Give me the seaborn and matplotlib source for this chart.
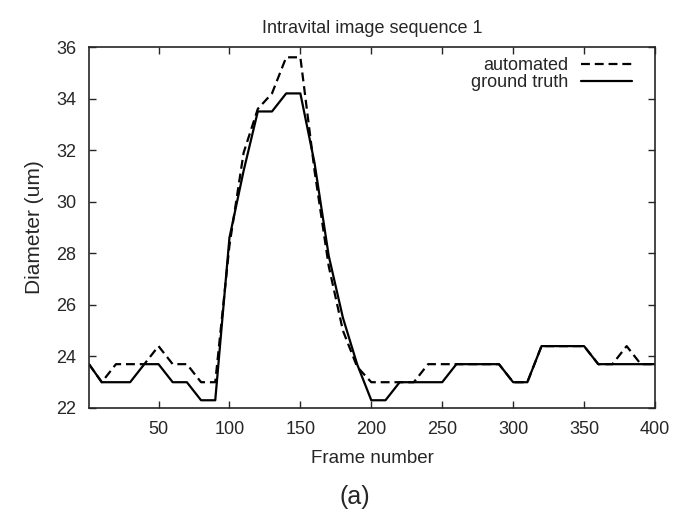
import matplotlib
matplotlib.use("Agg")
import matplotlib.pyplot as plt
import seaborn as sns
import pandas as pd

sns.set_style("ticks")
plt.rcParams['font.family'] = ['Liberation Sans', 'DejaVu Sans']

# frame numbers (sampled every 10 frames)
frames = [1, 10, 20, 30, 40, 50, 60, 70, 80, 90,
          100, 110, 120, 130, 140, 150, 160, 170, 180, 190,
          200, 210, 220, 230, 240, 250, 260, 270, 280, 290,
          300, 310, 320, 330, 340, 350, 360, 370, 380, 390, 400]

automated = [23.7, 23.0, 23.7, 23.7, 23.7, 24.4, 23.7, 23.7, 23.0, 23.0,
             28.3, 31.9, 33.6, 34.2, 35.6, 35.6, 31.2, 27.5, 25.0, 23.6,
             23.0, 23.0, 23.0, 23.0, 23.7, 23.7, 23.7, 23.7, 23.7, 23.7,
             23.0, 23.0, 24.4, 24.4, 24.4, 24.4, 23.7, 23.7, 24.4, 23.7, 23.7]

ground_truth = [23.7, 23.0, 23.0, 23.0, 23.7, 23.7, 23.0, 23.0, 22.3, 22.3,
                28.6, 31.2, 33.5, 33.5, 34.2, 34.2, 31.5, 27.9, 25.5, 23.7,
                22.3, 22.3, 23.0, 23.0, 23.0, 23.0, 23.7, 23.7, 23.7, 23.7,
                23.0, 23.0, 24.4, 24.4, 24.4, 24.4, 23.7, 23.7, 23.7, 23.7, 23.7]

xticks = [50, 100, 150, 200, 250, 300, 350, 400]
yticks = [22, 24, 26, 28, 30, 32, 34, 36]

df = pd.DataFrame({'frame': frames, 'automated': automated, 'ground truth': ground_truth})

fig = plt.figure(figsize=(6.76, 5.12), dpi=100)
ax = fig.add_axes([89 / 676, 1 - 408 / 512, (655 - 89) / 676, (408 - 47) / 512])

sns.lineplot(data=df, x='frame', y='automated', color='black', linewidth=1.6,
             linestyle=(0, (4, 2.2)), label='automated', ax=ax)
sns.lineplot(data=df, x='frame', y='ground truth', color='black', linewidth=1.6,
             label='ground truth', ax=ax)

ax.set_xlim(1, 400)
ax.set_ylim(22, 36)
ax.set_xticks(xticks)
ax.set_yticks(yticks)
ax.tick_params(direction='in', top=True, right=True, length=5, width=1,
               labelsize=13, pad=9)
for s in ax.spines.values():
    s.set_linewidth(1.2)

ax.set_title('Intravital image sequence 1', fontsize=13, pad=10)
ax.set_xlabel('Frame number', fontsize=13.5, labelpad=9)
ax.set_ylabel('Diameter (um)', fontsize=15, labelpad=9)

ax.legend(loc='upper right', bbox_to_anchor=(0.959, 0.972), frameon=False,
          markerfirst=False, fontsize=13, handlelength=2.8, borderpad=0,
          borderaxespad=0, labelspacing=0.02, handletextpad=0.7)

fig.text(355 / 676, 1 - 497 / 512, '(a)', ha='center', va='center', fontsize=18)

fig.savefig('out.png', dpi=100)
